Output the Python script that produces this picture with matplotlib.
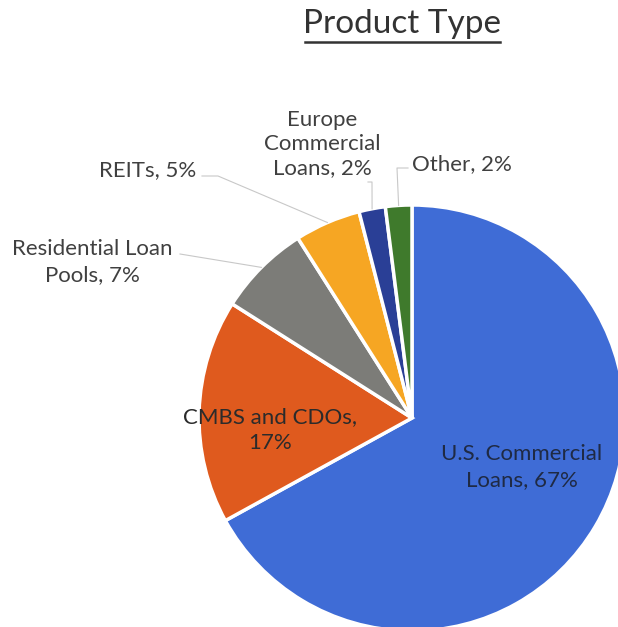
import matplotlib.pyplot as plt
import numpy as np

# Product type mix (percent)
products = ['U.S. Commercial Loans', 'CMBS and CDOs', 'Residential Loan Pools',
            'REITs', 'Europe Commercial Loans', 'Other']
shares = [67, 17, 7, 5, 2, 2]
colors = ['#3f6cd6', '#df5a1e', '#7c7c78', '#f6a623', '#2a3f96', '#3f7a2c']

W, H = 618, 627
cx, cy, r = 412, H - 418, 213

fig = plt.figure(figsize=(W / 100, H / 100), dpi=100)
ax = fig.add_axes([0, 0, 1, 1])

wedges, _ = ax.pie(shares, colors=colors, startangle=90, counterclock=False,
                   center=(cx, cy), radius=r, frame=True,
                   wedgeprops=dict(edgecolor='white', linewidth=2.5))
ax.set_xlim(0, W)
ax.set_ylim(0, H)
ax.set_aspect('equal')
ax.axis('off')

font = 'Lato'
fs = 16
ls = 1.35
txt_col = '#404040'

# title with underline
ax.text(402, H - 24, 'Product Type', ha='center', va='center',
        fontsize=24, color='#333333', family=font)
ax.plot([305, 500], [H - 42, H - 42], color='#333333', lw=1.8)

# labels inside the two big slices
ax.text(270, H - 430, f'CMBS and CDOs,\n{shares[1]}%',
        ha='center', va='center', fontsize=fs, color='#2b2b2b', family=font,
        linespacing=ls)
ax.text(522, H - 467, f'U.S. Commercial\nLoans, {shares[0]}%',
        ha='center', va='center', fontsize=fs, color='#1f2a44', family=font,
        linespacing=ls)


# anchor on the rim at a wedge's mid angle
def rim_point(w):
    a = np.deg2rad((w.theta1 + w.theta2) / 2)
    return cx + r * np.cos(a), cy + r * np.sin(a)


lead = '#c8c8c8'

# Residential Loan Pools
x0, y0 = rim_point(wedges[2])
ax.plot([180, x0], [H - 254, y0], color=lead, lw=0.8)
ax.text(92, H - 262, f'Residential Loan\nPools, {shares[2]}%', ha='center',
        va='center', fontsize=fs, color=txt_col, family=font, linespacing=ls)

# REITs
x0, y0 = rim_point(wedges[3])
ax.plot([202, 218, x0], [H - 176, H - 176, y0], color=lead, lw=0.8)
ax.text(148, H - 170, f'{products[3]}, {shares[3]}%', ha='center', va='center',
        fontsize=fs, color=txt_col, family=font)

# Europe Commercial Loans
x0, y0 = rim_point(wedges[4])
ax.plot([368, 372, x0], [H - 182, H - 182, y0], color=lead, lw=0.8)
ax.text(322, H - 144, f'Europe\nCommercial\nLoans, {shares[4]}%', ha='center',
        va='center', fontsize=fs, color=txt_col, family=font, linespacing=1.25)

# Other
x0, y0 = rim_point(wedges[5])
ax.plot([408, 397, x0], [H - 168, H - 168, y0], color=lead, lw=0.8)
ax.text(412, H - 164, f'{products[5]}, {shares[5]}%', ha='left', va='center',
        fontsize=fs, color=txt_col, family=font)

fig.savefig('out.png', dpi=100, facecolor='white')
